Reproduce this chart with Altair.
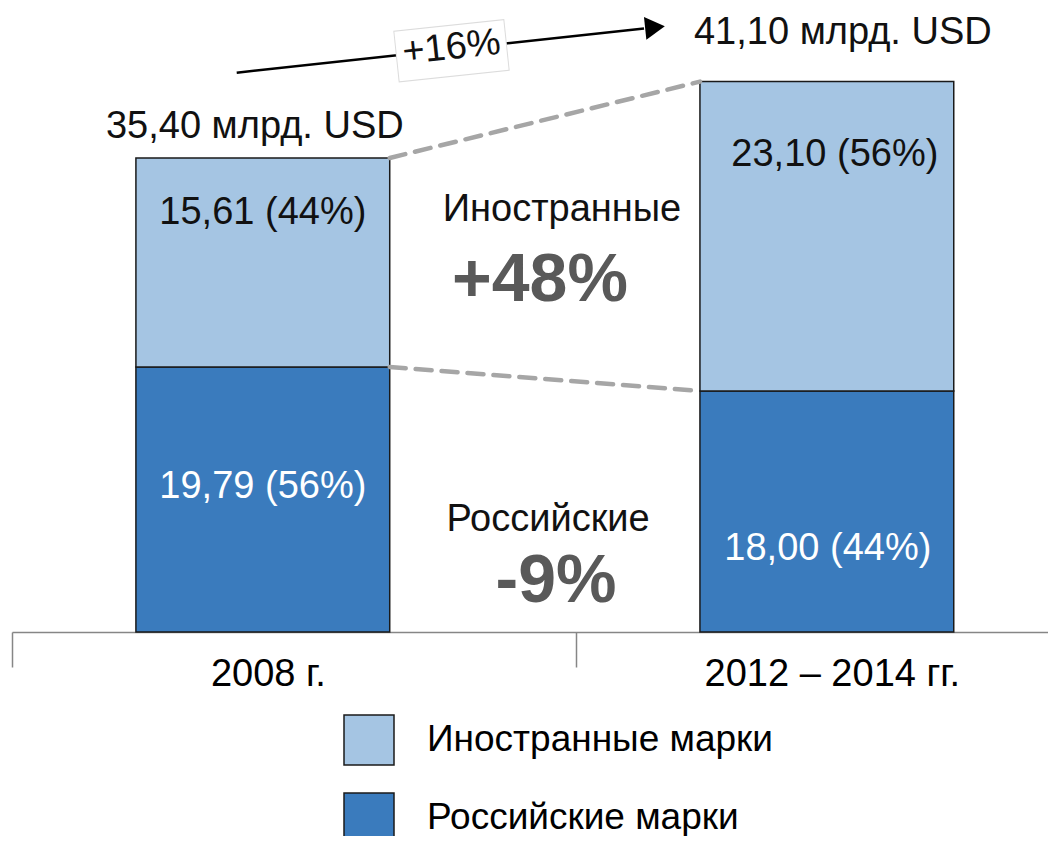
import altair as alt
import pandas as pd

# ---- data ----
categories = ["2008 г.", "2012 – 2014 гг."]
series_names = ["Иностранные марки", "Российские марки"]
foreign = [15.61, 23.10]
russian = [19.79, 18.00]
group_labels = ["Иностранные", "Российские"]
unit = "млрд. USD"

colors = ["#A5C5E3", "#3A7BBD"]
FONT = "Liberation Sans"


def fmt(v):
    return f"{v:.2f}".replace(".", ",")


def growth(a, b):
    g = round((b / a - 1) * 100)
    return f"+{g}%" if g > 0 else f"-{abs(g)}%"


totals = [f + r for f, r in zip(foreign, russian)]

# ---- tables ----
rows = []
for c, f, r in zip(categories, foreign, russian):
    rows.append({"cat": c, "series": series_names[1], "value": r, "ord": 0})
    rows.append({"cat": c, "series": series_names[0], "value": f, "ord": 1})
bars_df = pd.DataFrame(rows)

seg_rows = []
for i, c in enumerate(categories):
    t = totals[i]
    seg_rows.append({"cat": c, "anchor": t, "text": f"{fmt(foreign[i])} ({round(foreign[i] / t * 100)}%)"})
    seg_rows.append({"cat": c, "anchor": russian[i], "text": f"{fmt(russian[i])} ({round(russian[i] / t * 100)}%)"})
seg_df = pd.DataFrame(seg_rows)
seg_df["idx"] = range(len(seg_df))
# style per label: (dx, dy, color) in order foreign1, russian1, foreign2, russian2
seg_style = [(0, 55, "#111111"), (0, 120, "white"), (8, 73, "#111111"), (1, 158, "white")]

tot_df = pd.DataFrame({"cat": categories, "anchor": totals,
                       "text": [f"{fmt(t)} {unit}" for t in totals]})
tot_df["idx"] = range(len(tot_df))
tot_style = [(-8, -31), (16, -49)]

conn_df = pd.DataFrame({"c1": [categories[0]] * 2, "c2": [categories[1]] * 2,
                        "ya": [totals[0], russian[0]], "yb": [totals[1], russian[1]]})

xscale = alt.Scale(paddingInner=0.55, paddingOuter=0.1934, align=0.568)
yscale = alt.Scale(domain=[0, 46], nice=False, zero=True)

bars = alt.Chart(bars_df).mark_bar(stroke="#1a1a1a", strokeWidth=1.5).encode(
    x=alt.X("cat:N", sort=categories, scale=xscale, title=None,
            axis=alt.Axis(labelFont=FONT, labelFontSize=38, labelColor="black",
                          labelPadding=-12, tickOffset=-251, labelOffset=256, labelAngle=0,
                          labelLimit=0,
                          domainColor="#868686", domainWidth=1.5,
                          tickColor="#868686", tickWidth=1.5, tickSize=35,
                          grid=False)),
    y=alt.Y("value:Q", stack="zero", scale=yscale, axis=None),
    color=alt.Color("series:N", scale=alt.Scale(domain=series_names, range=colors),
                    legend=alt.Legend(orient="none", legendX=331, legendY=698, title=None,
                                      symbolType="square", symbolSize=2500,
                                      symbolStrokeColor="#1a1a1a", symbolStrokeWidth=1.5,
                                      symbolOpacity=1, labelFont=FONT, labelFontSize=37,
                                      labelColor="black", labelOffset=32, rowPadding=22,
                                      labelLimit=0, padding=0)),
    order=alt.Order("ord:Q", sort="ascending"),
)

conn = alt.Chart(conn_df).mark_rule(color="#A6A6A6", strokeWidth=4.5, strokeDash=[16, 10],
                                    strokeCap="round").encode(
    x=alt.X("c1:N", bandPosition=1, title=None),
    x2=alt.X2("c2:N", bandPosition=0),
    y=alt.Y("ya:Q", axis=None),
    y2="yb:Q",
)

layers = [bars, conn]

for i, (dx, dy, col) in enumerate(seg_style):
    layers.append(
        alt.Chart(seg_df).transform_filter(alt.datum.idx == i).mark_text(
            dx=dx, dy=dy, fontSize=38, font=FONT, color=col, baseline="middle", align="center"
        ).encode(x=alt.X("cat:N", title=None), y=alt.Y("anchor:Q", axis=None), text="text:N")
    )

for i, (dx, dy) in enumerate(tot_style):
    layers.append(
        alt.Chart(tot_df).transform_filter(alt.datum.idx == i).mark_text(
            dx=dx, dy=dy, fontSize=38, font=FONT, color="#111111", baseline="middle", align="center"
        ).encode(x=alt.X("cat:N", title=None), y=alt.Y("anchor:Q", axis=None), text="text:N")
    )

one = pd.DataFrame({"k": [0]})


def note(text, x, y, size, bold=False, color="#111111", angle=0):
    kw = dict(fontSize=size, font=FONT, color=color, baseline="middle", align="center",
              fontWeight="bold" if bold else "normal")
    if angle:
        kw["angle"] = angle
    return alt.Chart(one).mark_text(**kw).encode(
        x=alt.value(x), y=alt.value(y), text=alt.datum(text))


layers += [
    note(group_labels[0], 550, 194, 38),
    note(growth(foreign[0], foreign[1]), 528, 265, 68, bold=True, color="#595959"),
    note(group_labels[1], 536, 504, 38),
    note(growth(russian[0], russian[1]), 544, 566, 68, bold=True, color="#595959"),
]

# total growth arrow
arrow_line = alt.Chart(one).mark_rule(color="black", strokeWidth=2.5).encode(
    x=alt.value(224.7), y=alt.value(56.7), x2=alt.value(632), y2=alt.value(12.5))
box_border = alt.Chart(one).mark_rule(color="#dcdcdc", strokeWidth=52).encode(
    x=alt.value(384), y=alt.value(40.6), x2=alt.value(495), y2=alt.value(28.9))
box_fill = alt.Chart(one).mark_rule(color="white", strokeWidth=50).encode(
    x=alt.value(385), y=alt.value(40.5), x2=alt.value(494), y2=alt.value(29))
head = alt.Chart(one).mark_point(shape="triangle-right", size=520, filled=True, color="black",
                                 opacity=1, angle=354).encode(
    x=alt.value(643), y=alt.value(11.3))
layers += [arrow_line, box_border, box_fill, head,
           note(growth(totals[0], totals[1]), 439.5, 32, 38, angle=354)]

chart = alt.layer(*layers).properties(
    width=1036, height=616,
    autosize=alt.AutoSizeParams(type="none"),
    padding={"left": 4, "top": 8, "right": 0, "bottom": 204},
).configure(font=FONT).configure_view(stroke=None)

chart.save("out.html", embed_options={"renderer": "svg", "actions": False})
